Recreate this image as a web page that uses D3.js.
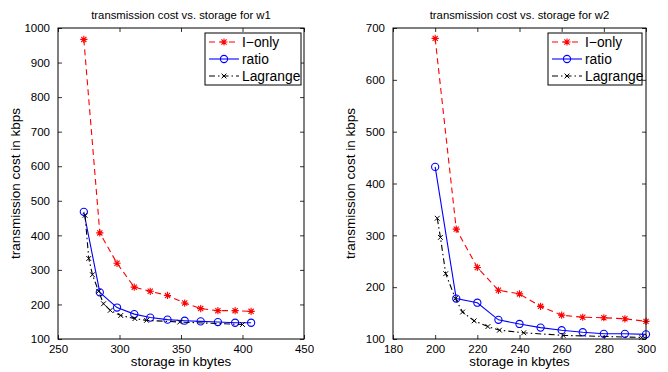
<!DOCTYPE html>
<html><head><meta charset="utf-8">
<script src="https://cdn.jsdelivr.net/npm/d3@7"></script>
<style>
body{margin:0;background:#fff;}
svg{display:block;font-family:"Liberation Sans",Arial,Helvetica,sans-serif;}
</style></head>
<body><svg id="c" width="668" height="372"></svg>
<script>
// ---- data: panel w1 ----
const w1IonlyX = [271, 284, 298, 312, 325, 339, 353, 366, 380, 394, 407];
const w1IonlyY = [967, 407, 319, 250, 238, 226, 204, 188, 182, 182, 180];
const w1RatioX = [271, 284, 298, 312, 325, 339, 353, 366, 380, 394, 407];
const w1RatioY = [468, 235, 191, 172, 162, 156, 153, 151, 149, 147, 147];
const w1LagX = [272, 275, 278, 283, 287, 292.5, 301, 312.5, 322, 349, 400];
const w1LagY = [458, 333, 286, 238, 202, 183, 168, 159, 154, 149, 142];
const w1XTicks = [250, 300, 350, 400, 450];
const w1YTicks = [100, 200, 300, 400, 500, 600, 700, 800, 900, 1000];
// ---- data: panel w2 ----
const w2IonlyX = [200, 210, 220, 230, 240, 250, 260, 270, 280, 290, 300];
const w2IonlyY = [680, 312, 238, 194, 187, 163, 146, 142, 141, 139, 134];
const w2RatioX = [200, 210, 220, 230, 240, 250, 260, 270, 280, 290, 300];
const w2RatioY = [432, 178, 170, 137, 129, 122, 117, 113, 110, 110, 109];
const w2LagX = [201, 202.5, 205, 209.6, 213, 218.5, 225, 230.5, 242, 260.7, 298];
const w2LagY = [333, 296, 226, 178, 152, 135, 124, 117, 112, 107, 103];
const w2XTicks = [180, 200, 220, 240, 260, 280, 300];
const w2YTicks = [100, 200, 300, 400, 500, 600, 700];
const legendLabels = ["I\u2212only", "ratio", "Lagrange"];

const svg = d3.select("#c");

function starPath(s){
  const d = s*0.72;
  return `M${-s},0L${s},0M0,${-s}L0,${s}M${-d},${-d}L${d},${d}M${-d},${d}L${d},${-d}`;
}
function xPath(s){ return `M${-s},${-s}L${s},${s}M${-s},${s}L${s},${-s}`; }

const styles = [
  {color:"#ff0000", dash:"6,4", marker:"star"},
  {color:"#0000ff", dash:null, marker:"circle"},
  {color:"#000000", dash:"6,3,1.5,3", marker:"x"}
];

function drawMarker(g, type, x, y, color){
  if(type==="star") g.append("path").attr("d", starPath(3.6)).attr("transform",`translate(${x},${y})`).attr("stroke",color).attr("stroke-width",1.1).attr("fill","none");
  else if(type==="circle") g.append("circle").attr("cx",x).attr("cy",y).attr("r",3.6).attr("stroke",color).attr("stroke-width",1.1).attr("fill","none");
  else g.append("path").attr("d", xPath(2.4)).attr("transform",`translate(${x},${y})`).attr("stroke",color).attr("stroke-width",1).attr("fill","none");
}

function panel(opt){
  const {left,right,top,bottom,xDom,yDom,xTicks,yTicks,series,title,legend} = opt;
  const x = d3.scaleLinear().domain(xDom).range([left,right]);
  const y = d3.scaleLinear().domain(yDom).range([bottom,top]);
  const g = svg.append("g");
  g.append("rect").attr("x",left).attr("y",top).attr("width",right-left).attr("height",bottom-top).attr("fill","#fff");

  const ax = (gen, tr, labels) => {
    const a = g.append("g").attr("transform",tr).call(gen);
    a.select(".domain").remove();
    a.selectAll("line").attr("stroke","#000").attr("stroke-width",0.8);
    a.selectAll("text").attr("font-size","11.5px").attr("fill","#000").attr("font-family","Liberation Sans,Arial,sans-serif");
    if(!labels) a.selectAll("text").remove();
    return a;
  };
  ax(d3.axisBottom(x).tickValues(xTicks).tickSizeInner(-4).tickSizeOuter(0).tickPadding(6).tickFormat(d3.format("d")), `translate(0,${bottom})`, true);
  ax(d3.axisTop(x).tickValues(xTicks).tickSizeInner(-4).tickSizeOuter(0), `translate(0,${top})`, false);
  ax(d3.axisLeft(y).tickValues(yTicks).tickSizeInner(-4).tickSizeOuter(0).tickPadding(8).tickFormat(d3.format("d")), `translate(${left},0)`, true);
  ax(d3.axisRight(y).tickValues(yTicks).tickSizeInner(-4).tickSizeOuter(0), `translate(${right},0)`, false);

  series.forEach((s,i)=>{
    const st = styles[i];
    const pts = s.xs.map((v,j)=>[x(v), y(s.ys[j])]);
    g.append("path").attr("d", d3.line()(pts)).attr("fill","none").attr("stroke",st.color).attr("stroke-width",1.1)
      .attr("stroke-dasharray", st.dash);
    pts.forEach(p=>drawMarker(g, st.marker, p[0], p[1], st.color));
  });

  g.append("rect").attr("x",left).attr("y",top).attr("width",right-left).attr("height",bottom-top)
    .attr("fill","none").attr("stroke","#000").attr("stroke-width",1);

  const cx = (left+right)/2;
  g.append("text").attr("x",cx).attr("y",top-9).attr("text-anchor","middle").attr("font-size","11.3px").text(title);
  g.append("text").attr("x",cx).attr("y",bottom+27).attr("text-anchor","middle").attr("font-size","13.3px").text("storage in kbytes");
  g.append("text").attr("transform",`translate(${opt.ylabX},${(top+bottom)/2}) rotate(-90)`).attr("text-anchor","middle").attr("font-size","13.5px").text("transmission cost in kbps");

  const L = legend;
  const lg = g.append("g");
  lg.append("rect").attr("x",L.x).attr("y",L.y).attr("width",L.w).attr("height",L.h).attr("fill","#fff").attr("stroke","#000").attr("stroke-width",1);
  legendLabels.forEach((lab,i)=>{
    const st = styles[i];
    const yy = L.y + 9 + i*17;
    lg.append("line").attr("x1",L.x+4).attr("x2",L.x+34).attr("y1",yy).attr("y2",yy).attr("stroke",st.color).attr("stroke-width",1.1).attr("stroke-dasharray",st.dash);
    drawMarker(lg, st.marker, L.x+19, yy, st.color);
    lg.append("text").attr("x",L.x+37).attr("y",yy+5).attr("font-size","13.8px").text(lab);
  });
}

panel({left:58,right:304,top:28,bottom:339,xDom:[250,450],yDom:[100,1000],xTicks:w1XTicks,yTicks:w1YTicks,
  series:[{xs:w1IonlyX,ys:w1IonlyY},{xs:w1RatioX,ys:w1RatioY},{xs:w1LagX,ys:w1LagY}],
  title:"transmission cost vs. storage for w1", ylabX:20,
  legend:{x:205,y:33,w:96,h:52}});
panel({left:393,right:646,top:28,bottom:339,xDom:[180,300],yDom:[100,700],xTicks:w2XTicks,yTicks:w2YTicks,
  series:[{xs:w2IonlyX,ys:w2IonlyY},{xs:w2RatioX,ys:w2RatioY},{xs:w2LagX,ys:w2LagY}],
  title:"transmission cost vs. storage for w2", ylabX:355,
  legend:{x:548,y:33,w:94,h:52}});
</script></body></html>
